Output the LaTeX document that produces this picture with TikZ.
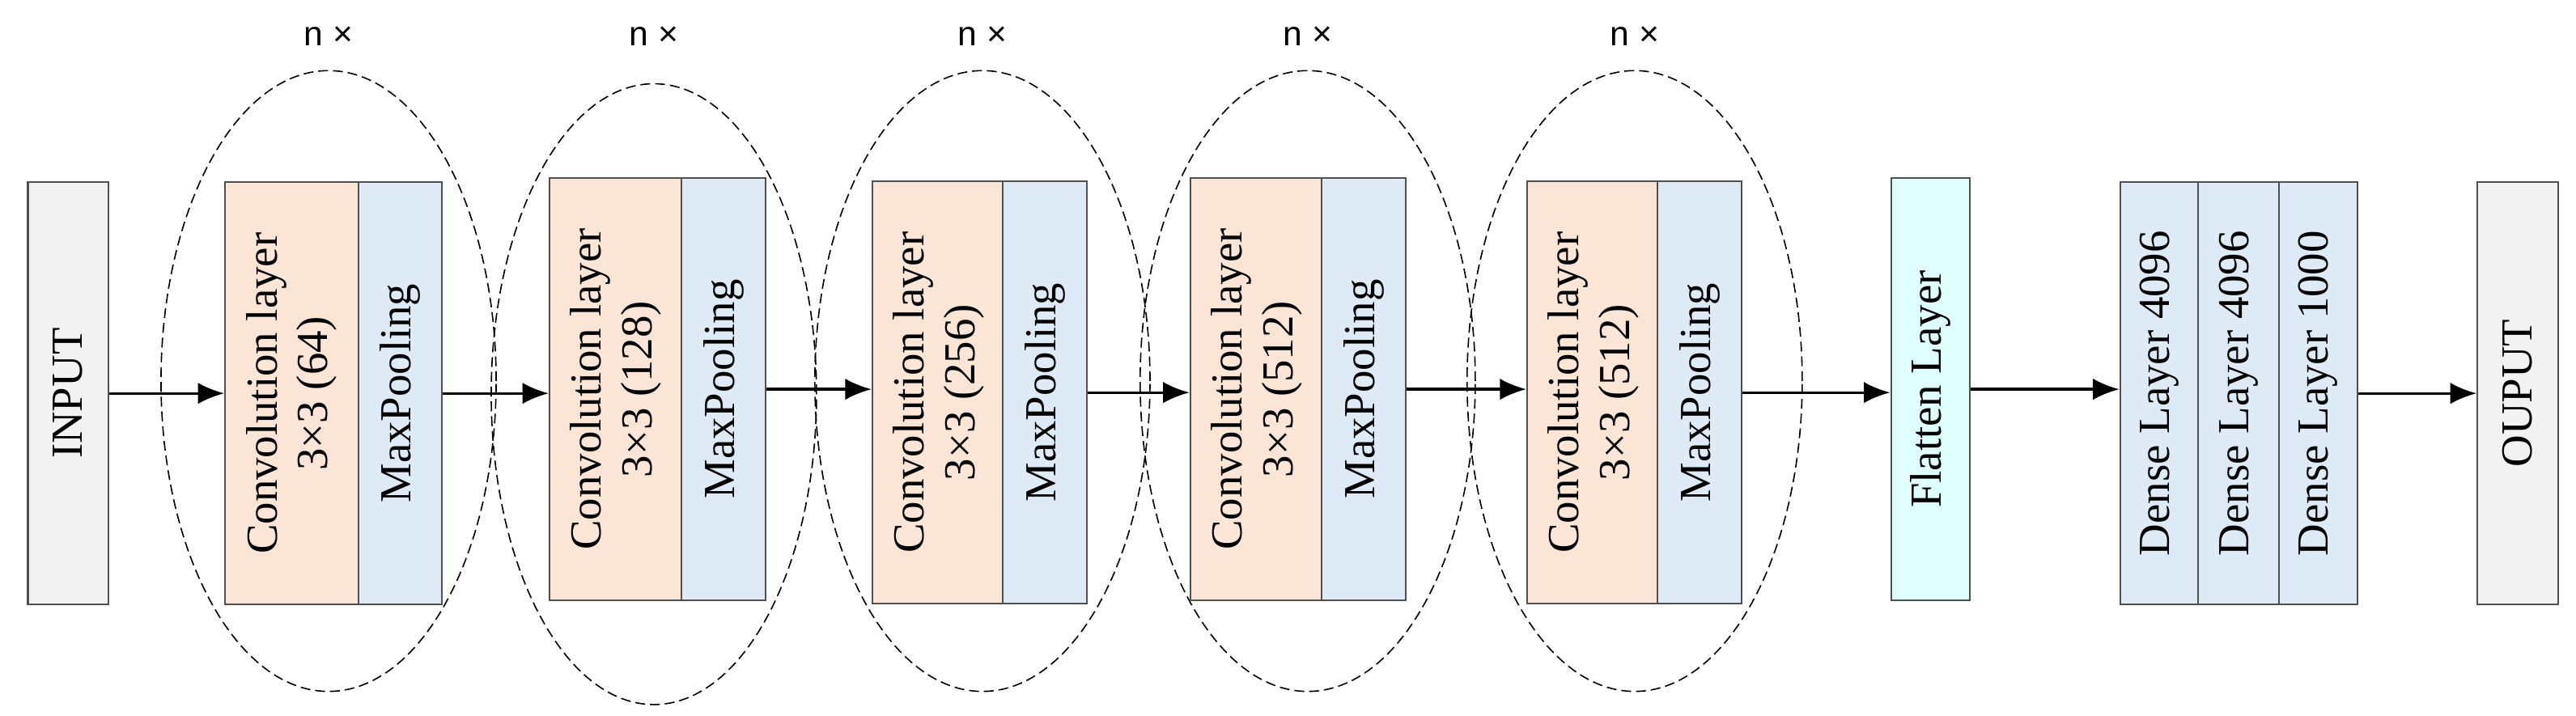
\documentclass[tikz,border=0pt]{standalone}
\usepackage{fontspec}
\setmainfont{Liberation Serif}
\newfontfamily\sansf{Liberation Sans}
\usetikzlibrary{shapes.geometric,arrows.meta}
\definecolor{conv}{HTML}{FBE5D6}
\definecolor{pool}{HTML}{DEEBF7}
\definecolor{io}{HTML}{F2F2F2}
\definecolor{flat}{HTML}{E0FFFF}
\definecolor{bord}{HTML}{505050}
\tikzset{
  blk/.style={draw=bord, line width=1pt, rotate=90, inner sep=0pt, minimum width=257pt, align=center, font=\fontsize{27}{31}\selectfont},
  cv/.style={blk, fill=conv, minimum height=81pt},
  mp/.style={blk, fill=pool, minimum height=51pt},
  ioblk/.style={blk, fill=io, minimum height=49pt},
  grp/.style={draw, dash pattern=on 6pt off 3pt, ellipse, line width=0.8pt, minimum width=204pt, minimum height=378pt, inner sep=0pt},
  nx/.style={font=\sansf\fontsize{21}{22}\selectfont},
  arr/.style={-{Latex[length=16pt,width=13pt]}, line width=1.6pt}
}
\begin{document}
\begin{tikzpicture}[x=1pt,y=-1pt]
\useasboundingbox (0,0) rectangle (1568,435.5);
% ellipses
\node[grp] (e1) at (200,232) {};
\node[grp, minimum width=198pt] (e2) at (398,240) {};
\node[grp] (e3) at (598,232) {};
\node[grp] (e4) at (796,232) {};
\node[grp] (e5) at (995,232) {};
\foreach \i/\x in {1/200,2/398,3/598,4/796,5/995}{\node[nx] (n\i) at (\x,22) {n ×};}
% blocks
\node[ioblk] (in) at (41.5,239.5) {INPUT};
\node[cv] (c1) at (177.5,239.5) {Convolution layer\\3×3 (64)};
\node[mp] (p1) at (243.5,239.5) {MaxPooling};
\node[cv] (c2) at (375,237) {Convolution layer\\3×3 (128)};
\node[mp] (p2) at (440.5,237) {MaxPooling};
\node[cv] (c3) at (571.5,239) {Convolution layer\\3×3 (256)};
\node[mp] (p3) at (636,239) {MaxPooling};
\node[cv] (c4) at (765,237) {Convolution layer\\3×3 (512)};
\node[mp] (p4) at (830,237) {MaxPooling};
\node[cv] (c5) at (970,239) {Convolution layer\\3×3 (512)};
\node[mp] (p5) at (1034.5,239) {MaxPooling};
\node[blk, fill=flat, minimum height=48pt] (fl) at (1175,237) {Flatten Layer};
\node[blk, fill=pool, minimum height=48pt] (d1) at (1314.5,239.5) {Dense Layer 4096};
\node[blk, fill=pool, minimum height=49pt] (d2) at (1362.5,239.5) {Dense Layer 4096};
\node[blk, fill=pool, minimum height=48pt] (d3) at (1411,239.5) {Dense Layer 1000};
\node[ioblk] (out) at (1532.5,239.5) {OUPUT};
% arrows
\draw[arr] (in.south) -- (c1.north);
\draw[arr] (p1.south) -- (c2.north|-p1.south);
\draw[arr] (p2.south) -- (c3.north|-p2.south);
\draw[arr] (p3.south) -- (c4.north|-p3.south);
\draw[arr] (p4.south) -- (c5.north|-p4.south);
\draw[arr] (p5.south) -- (fl.north|-p5.south);
\draw[arr] (fl.south) -- (d1.north|-fl.south);
\draw[arr] (d3.south) -- (out.north);
\end{tikzpicture}
\end{document}
